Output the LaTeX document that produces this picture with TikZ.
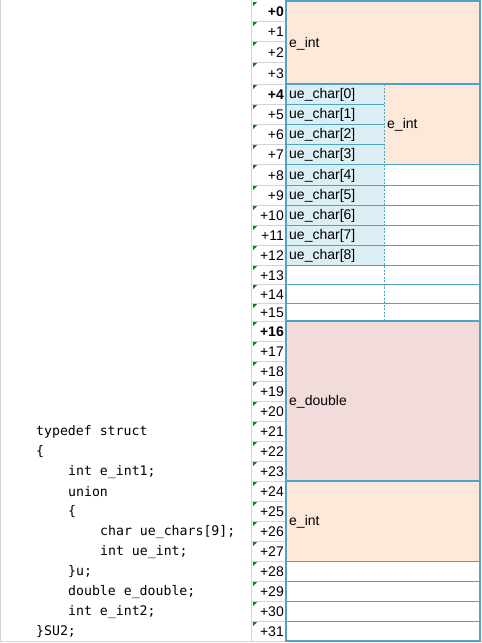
\documentclass[tikz,border=0pt]{standalone}
\usepackage{fontspec}
\setmainfont{Liberation Sans}
\setmonofont{DejaVu Sans Mono}
\usetikzlibrary{calc}
\definecolor{frame}{RGB}{75,165,195}
\definecolor{intfill}{RGB}{253,233,217}
\definecolor{charfill}{RGB}{218,238,243}
\definecolor{dblfill}{RGB}{242,220,219}
\definecolor{gridgray}{RGB}{212,212,212}
\definecolor{tickgreen}{RGB}{0,128,0}
\begin{document}
\begin{tikzpicture}[x=1pt, y=-1pt,
    thin/.style={draw=frame, line width=0.8pt},
    thickline/.style={draw=frame, line width=2.3pt},
    lbl/.style={anchor=west, inner sep=0pt, font=\fontsize{14}{14}\selectfont},
    offs/.style={anchor=east, inner sep=0pt, font=\fontsize{14}{14}\selectfont},
    code/.style={anchor=west, inner sep=0pt, font=\ttfamily\fontsize{13.2}{13.2}\selectfont}]
  \useasboundingbox (0,0) rectangle (482,643);

  % columns
  \coordinate (O) at (252,0);
  \coordinate (L) at (286,0);
  \coordinate (M) at (384,0);
  \coordinate (R) at (480,0);

  % row boundaries
  \foreach \y [count=\i from 0] in {1,21,41,62,84,104,124,144,164,185,205,225,245,265,284,303,
      321,341,361,381,401,421,441,461,481,501,521,541,561,581,601,621,641}
    \coordinate (r\i) at (286,\y);

  % member blocks
  \fill[intfill] (r0) rectangle (r4 -| R);
  \fill[charfill] (r4) rectangle (r13 -| M);
  \fill[intfill] (r4 -| M) rectangle (r8 -| R);
  \fill[dblfill] (r16) rectangle (r24 -| R);
  \fill[intfill] (r24) rectangle (r28 -| R);

  % offset column
  \draw[gridgray] (0.5,0) -- (0.5,641.5) -- (482,641.5);
  \draw[gridgray] (251.5,0) -- (251.5,641.5);
  \foreach \i in {1,...,31}
    \draw[gridgray] (r\i -| O) -- (r\i);
  \foreach \i in {0,...,31} {
    \fill[tickgreen, shift={(r\i -| O)}] (1,1) -- (5,1) -- (1,5) -- cycle;
    \pgfmathtruncatemacro\j{\i+1}
    \node[offs] (o\i) at ($(r\i)!0.5!(r\j)+(-2,1)$)
      {\ifnum\i=0 \bfseries\else\ifnum\i=4 \bfseries\else\ifnum\i=16 \bfseries\fi\fi\fi+\i};
  }

  % grid lines
  \foreach \i in {5,6,7}
    \draw[thin] (r\i) -- (r\i -| M);
  \foreach \i in {8,...,15,28,29,30,31}
    \draw[thin] (r\i) -- (r\i -| R);
  \draw[thin, dashed, dash pattern=on 2pt off 1.5pt] (r4 -| M) -- (r16 -| M);
  \foreach \i in {4,16,24}
    \draw[thickline] (r\i) -- (r\i -| R);
  \draw[thickline] (r0) rectangle (r32 -| R);

  % labels
  \node[lbl] (eint1) at ($(r0)!0.5!(r4)+(3,1)$) {e\_int};
  \foreach \k in {0,...,8} {
    \pgfmathtruncatemacro\a{\k+4}
    \pgfmathtruncatemacro\b{\k+5}
    \node[lbl] (uc\k) at ($(r\a)!0.5!(r\b)+(3,1)$) {ue\_char[\k]};
  }
  \node[lbl] (ueint) at ($(r4 -| M)!0.5!(r8 -| M)+(3,1)$) {e\_int};
  \node[lbl] (edbl) at ($(r16)!0.5!(r24)+(3,1)$) {e\_double};
  \node[lbl] (eint2) at ($(r24)!0.5!(r28)+(3,1)$) {e\_int};

  % source code
  \foreach \txt/\ind [count=\k from 0] in {typedef struct/0, {\{}/0, int e\_int1;/1, union/1,
      {\{}/1, char ue\_chars[9];/2, int ue\_int;/2, {\}u;}/1, double e\_double;/1,
      int e\_int2;/1, {\}SU2;}/0}
    \node[code] (src\k) at ({36+32*\ind},{432+20*\k}) {\txt};
\end{tikzpicture}
\end{document}
